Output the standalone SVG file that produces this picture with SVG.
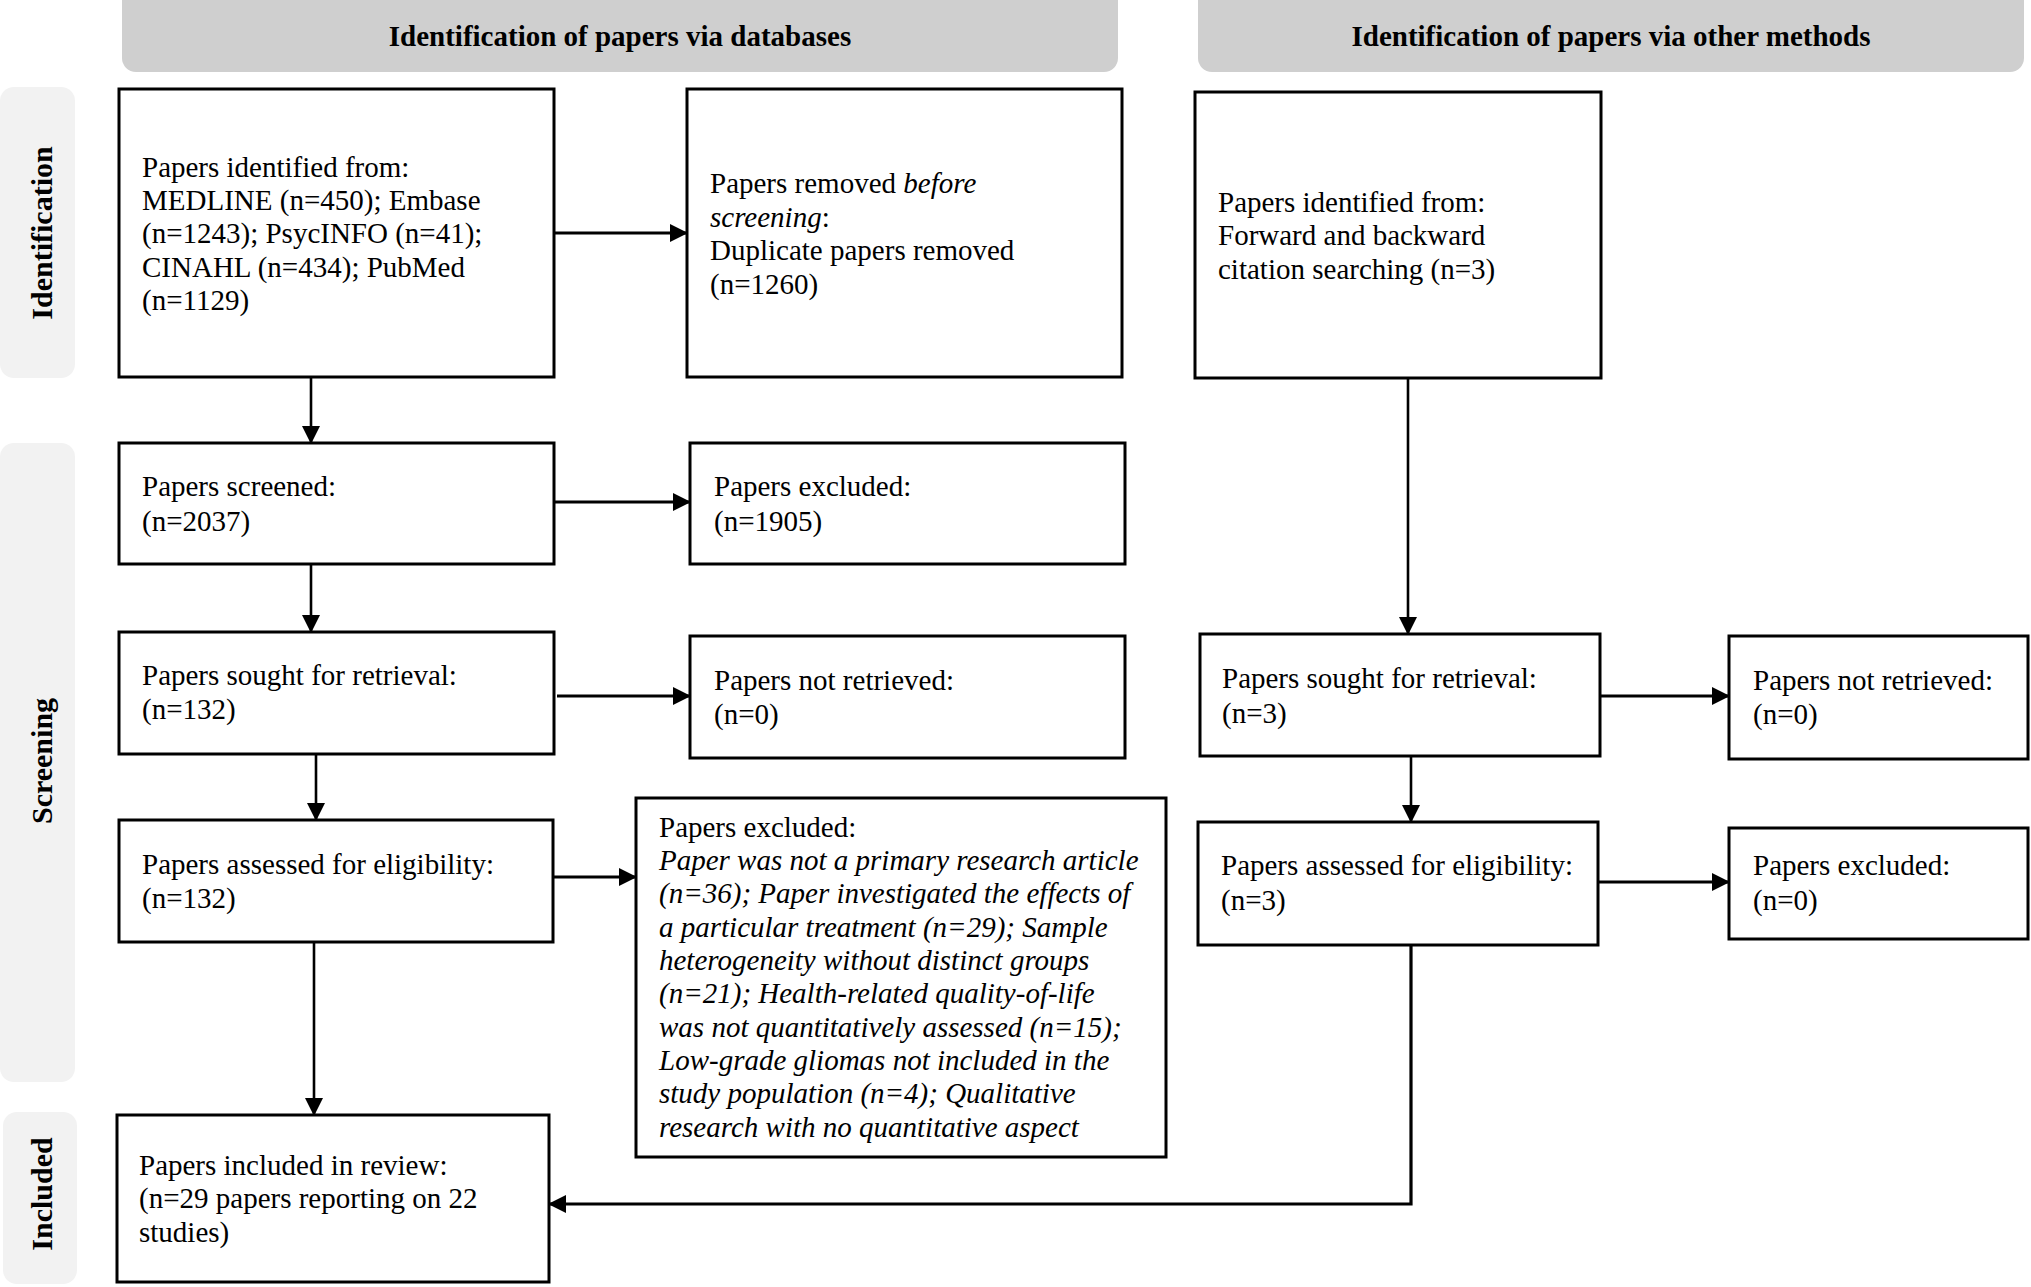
<svg xmlns="http://www.w3.org/2000/svg" width="2031" height="1287" viewBox="0 0 2031 1287">
<style>
text{font-family:"Liberation Serif","Times New Roman",serif;fill:#000}
.t{font-size:29px}
.hd{font-size:29px;font-weight:bold;text-anchor:middle}
.sd{font-size:30px;font-weight:bold;text-anchor:middle}
.box{fill:#fff;stroke:#000;stroke-width:3}
.hdr{fill:#cfcfcf}
.side{fill:#f2f2f2}
.ch{fill:none;stroke:#000;stroke-width:3.2}
.cv{fill:none;stroke:#000;stroke-width:2.6}
</style>
<defs>
<marker id="ah" markerUnits="userSpaceOnUse" markerWidth="18" markerHeight="18" viewBox="0 0 18 18" refX="17" refY="9" orient="auto">
<path d="M0,0 L18,9 L0,18 z" fill="#000"/>
</marker>
</defs>
<rect width="2031" height="1287" fill="#fff"/>
<g id="headers">
<rect class="hdr" x="122" y="-15" width="996" height="87" rx="14"/>
<text class="hd" x="620" y="46">Identification of papers via databases</text>
<rect class="hdr" x="1198" y="-15" width="826" height="87" rx="14"/>
<text class="hd" x="1611" y="46">Identification of papers via other methods</text>
</g>
<g id="phases">
<rect class="side" x="0" y="87" width="75" height="291" rx="14"/>
<text class="sd" transform="translate(52,233) rotate(-90)">Identification</text>
<rect class="side" x="0" y="443" width="75" height="639" rx="14"/>
<text class="sd" transform="translate(52,761) rotate(-90)">Screening</text>
<rect class="side" x="3" y="1112" width="74" height="172" rx="14"/>
<text class="sd" transform="translate(52,1194) rotate(-90)">Included</text>
</g>
<g id="connectors">
<path class="ch" d="M554,233 H687" marker-end="url(#ah)"/>
<path class="cv" d="M311,377 V443" marker-end="url(#ah)"/>
<path class="ch" d="M554,502 H690" marker-end="url(#ah)"/>
<path class="cv" d="M311,564 V632" marker-end="url(#ah)"/>
<path class="ch" d="M557,696 H690" marker-end="url(#ah)"/>
<path class="cv" d="M316,754 V820" marker-end="url(#ah)"/>
<path class="ch" d="M553,877 H636" marker-end="url(#ah)"/>
<path class="cv" d="M314,942 V1115" marker-end="url(#ah)"/>
<path class="cv" d="M1408,378 V634" marker-end="url(#ah)"/>
<path class="ch" d="M1600,696 H1729" marker-end="url(#ah)"/>
<path class="cv" d="M1411,756 V822" marker-end="url(#ah)"/>
<path class="ch" d="M1598,882 H1729" marker-end="url(#ah)"/>
<path class="ch" d="M1411,945 V1204 H549" marker-end="url(#ah)"/>
</g>
<g id="n-identified-db">
<rect class="box" x="119" y="89" width="435" height="288"/>
<text class="t" x="142" y="177">Papers identified from:</text>
<text class="t" x="142" y="210">MEDLINE (n=450); Embase</text>
<text class="t" x="142" y="243">(n=1243); PsycINFO (n=41);</text>
<text class="t" x="142" y="277">CINAHL (n=434); PubMed</text>
<text class="t" x="142" y="310">(n=1129)</text>
</g>
<g id="n-removed">
<rect class="box" x="687" y="89" width="435" height="288"/>
<text class="t" x="710" y="193">Papers removed <tspan font-style="italic">before</tspan></text>
<text class="t" x="710" y="227"><tspan font-style="italic">screening</tspan>:</text>
<text class="t" x="710" y="260">Duplicate papers removed</text>
<text class="t" x="710" y="294">(n=1260)</text>
</g>
<g id="n-identified-other">
<rect class="box" x="1195" y="92" width="406" height="286"/>
<text class="t" x="1218" y="212">Papers identified from:</text>
<text class="t" x="1218" y="245">Forward and backward</text>
<text class="t" x="1218" y="279">citation searching (n=3)</text>
</g>
<g id="n-screened">
<rect class="box" x="119" y="443" width="435" height="121"/>
<text class="t" x="142" y="496">Papers screened:</text>
<text class="t" x="142" y="531">(n=2037)</text>
</g>
<g id="n-excluded-screen">
<rect class="box" x="690" y="443" width="435" height="121"/>
<text class="t" x="714" y="496">Papers excluded:</text>
<text class="t" x="714" y="531">(n=1905)</text>
</g>
<g id="n-sought-db">
<rect class="box" x="119" y="632" width="435" height="122"/>
<text class="t" x="142" y="685">Papers sought for retrieval:</text>
<text class="t" x="142" y="719">(n=132)</text>
</g>
<g id="n-notretrieved-db">
<rect class="box" x="690" y="636" width="435" height="122"/>
<text class="t" x="714" y="690">Papers not retrieved:</text>
<text class="t" x="714" y="724">(n=0)</text>
</g>
<g id="n-assessed-db">
<rect class="box" x="119" y="820" width="434" height="122"/>
<text class="t" x="142" y="874">Papers assessed for eligibility:</text>
<text class="t" x="142" y="908">(n=132)</text>
</g>
<g id="n-excluded-elig-db">
<rect class="box" x="636" y="798" width="530" height="359"/>
<text class="t" x="659" y="837">Papers excluded:</text>
<g font-style="italic">
<text class="t" x="659" y="870">Paper was not a primary research article</text>
<text class="t" x="659" y="903">(n=36); Paper investigated the effects of</text>
<text class="t" x="659" y="937">a particular treatment (n=29); Sample</text>
<text class="t" x="659" y="970">heterogeneity without distinct groups</text>
<text class="t" x="659" y="1003">(n=21); Health-related quality-of-life</text>
<text class="t" x="659" y="1037">was not quantitatively assessed (n=15);</text>
<text class="t" x="659" y="1070">Low-grade gliomas not included in the</text>
<text class="t" x="659" y="1103">study population (n=4); Qualitative</text>
<text class="t" x="659" y="1137">research with no quantitative aspect</text>
</g>
</g>
<g id="n-included">
<rect class="box" x="117" y="1115" width="432" height="167"/>
<text class="t" x="139" y="1175">Papers included in review:</text>
<text class="t" x="139" y="1208">(n=29 papers reporting on 22</text>
<text class="t" x="139" y="1242">studies)</text>
</g>
<g id="n-sought-other">
<rect class="box" x="1200" y="634" width="400" height="122"/>
<text class="t" x="1222" y="688">Papers sought for retrieval:</text>
<text class="t" x="1222" y="723">(n=3)</text>
</g>
<g id="n-notretrieved-other">
<rect class="box" x="1729" y="636" width="299" height="123"/>
<text class="t" x="1753" y="690">Papers not retrieved:</text>
<text class="t" x="1753" y="724">(n=0)</text>
</g>
<g id="n-assessed-other">
<rect class="box" x="1198" y="822" width="400" height="123"/>
<text class="t" x="1221" y="875">Papers assessed for eligibility:</text>
<text class="t" x="1221" y="910">(n=3)</text>
</g>
<g id="n-excluded-other">
<rect class="box" x="1729" y="828" width="299" height="111"/>
<text class="t" x="1753" y="875">Papers excluded:</text>
<text class="t" x="1753" y="910">(n=0)</text>
</g>
</svg>
